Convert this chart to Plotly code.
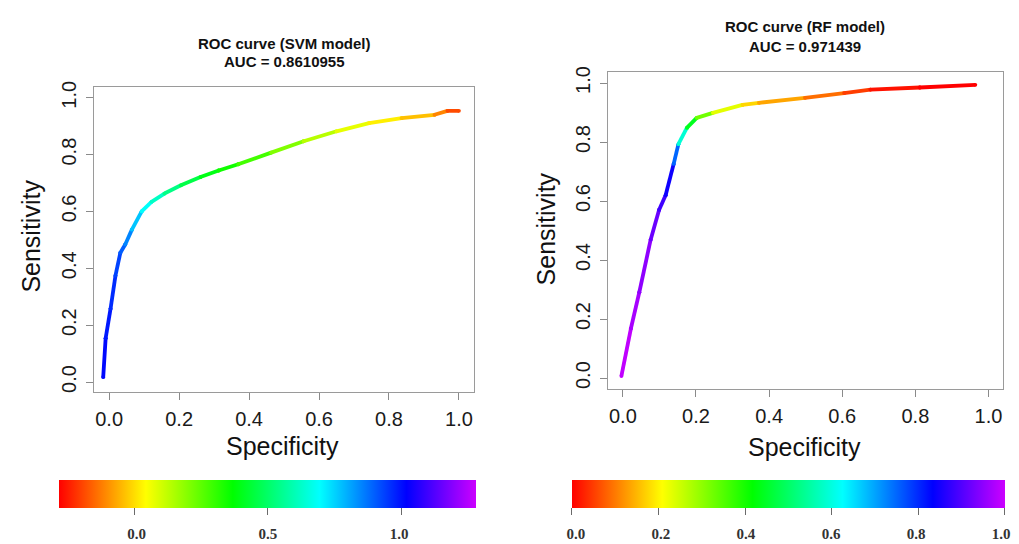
import plotly.graph_objects as go
from plotly.colors import sample_colorscale

W, H = 1019, 544

# ---------------- data ----------------
svm_spec = [-0.017, -0.010, 0.004, 0.018, 0.032, 0.046, 0.065, 0.093, 0.121, 0.158, 0.205,
            0.261, 0.313, 0.369, 0.463, 0.556, 0.650, 0.743, 0.836, 0.930, 0.967, 1.000]
svm_sens = [0.017, 0.154, 0.258, 0.374, 0.455, 0.484, 0.536, 0.600, 0.634, 0.663, 0.692,
            0.721, 0.744, 0.766, 0.807, 0.847, 0.882, 0.911, 0.928, 0.940, 0.954, 0.954]
svm_thr = [1.02, 1.00, 0.98, 0.95, 0.92, 0.88, 0.82, 0.72, 0.66, 0.58, 0.50,
           0.42, 0.37, 0.33, 0.24, 0.17, 0.10, 0.05, 0.00, -0.07, -0.15, -0.22]

rf_spec = [-0.004, 0.022, 0.045, 0.076, 0.099, 0.117, 0.139, 0.152, 0.175, 0.202, 0.246,
           0.327, 0.372, 0.498, 0.605, 0.677, 0.812, 0.964]
rf_sens = [0.007, 0.168, 0.291, 0.469, 0.570, 0.620, 0.726, 0.793, 0.848, 0.882, 0.899,
           0.926, 0.933, 0.950, 0.966, 0.978, 0.985, 0.994]
rf_thr = [1.00, 0.98, 0.96, 0.94, 0.90, 0.87, 0.82, 0.68, 0.50, 0.38, 0.27,
          0.19, 0.16, 0.11, 0.07, 0.03, 0.00, 0.00]

svm_title = ["ROC curve (SVM model)", "AUC = 0.8610955"]
rf_title = ["ROC curve (RF model)", "AUC = 0.971439"]

axis_ticks = [0.0, 0.2, 0.4, 0.6, 0.8, 1.0]
axis_ticktext = ["0.0", "0.2", "0.4", "0.6", "0.8", "1.0"]
svm_cb_range = [-0.28, 1.28]
svm_cb_ticks = [0.0, 0.5, 1.0]
svm_cb_text = ["0.0", "0.5", "1.0"]
rf_cb_range = [0.0, 1.0]
rf_cb_ticks = [0.0, 0.2, 0.4, 0.6, 0.8, 1.0]
rf_cb_text = ["0.0", "0.2", "0.4", "0.6", "0.8", "1.0"]

rainbow = [[0.0, "#FF0000"], [0.2083, "#FFFF00"], [0.4167, "#00FF00"],
           [0.625, "#00FFFF"], [0.8333, "#0000FF"], [1.0, "#CC00FF"]]

SANS = "Liberation Sans, Arial, sans-serif"
SERIF = "Liberation Serif, Times New Roman, serif"


def px_x(p):
    return p / W


def px_y(p):
    return 1 - p / H


fig = go.Figure()


def add_curve(xs, ys, cs, crange, xa, ya):
    lo, hi = crange
    for i in range(len(xs) - 1):
        v = (cs[i] + cs[i + 1]) / 2
        t = min(max((v - lo) / (hi - lo), 0), 1)
        col = sample_colorscale(rainbow, [t])[0]
        fig.add_trace(go.Scatter(x=[xs[i], xs[i + 1]], y=[ys[i], ys[i + 1]],
                                 mode="lines+markers",
                                 line=dict(color=col, width=3.8),
                                 marker=dict(color=col, size=3.8),
                                 xaxis=xa, yaxis=ya, showlegend=False,
                                 hoverinfo="skip"))


add_curve(svm_spec, svm_sens, svm_thr, svm_cb_range, "x", "y")
add_curve(rf_spec, rf_sens, rf_thr, rf_cb_range, "x2", "y2")


def add_colorbar(crange, ticks, left, right, top, bottom, xa, ya):
    fig.add_trace(go.Scatter(
        x=[None], y=[None], mode="markers", xaxis=xa, yaxis=ya, showlegend=False,
        marker=dict(color=[crange[0]], colorscale=rainbow, cmin=crange[0], cmax=crange[1],
                    showscale=True,
                    colorbar=dict(orientation="h", x=px_x((left + right) / 2), xanchor="center",
                                  y=px_y(top), yanchor="top", len=right - left, lenmode="pixels",
                                  thickness=bottom - top, thicknessmode="pixels",
                                  outlinewidth=0, xpad=0, ypad=0, ticks="outside",
                                  ticklen=7, tickwidth=1.2, tickcolor="#6a6a6a",
                                  tickmode="array", tickvals=ticks,
                                  showticklabels=False))))


add_colorbar(svm_cb_range, svm_cb_ticks, 55, 472, 480, 508, "x3", "y3")
add_colorbar(rf_cb_range, rf_cb_ticks, 577, 1010, 480, 508, "x4", "y4")

main_axis = dict(showline=True, mirror=True, linecolor="#9a9a9a", linewidth=1,
                 ticks="outside", ticklen=7, tickcolor="#8a8a8a", showgrid=False,
                 zeroline=False, tickvals=axis_ticks, ticktext=axis_ticktext,
                 tickfont=dict(family=SANS, size=20, color="#1a1a1a"),
                 ticklabelstandoff=2, fixedrange=True)

cb_axis = dict(showline=False, showgrid=False, zeroline=False, ticks="outside", ticklen=7,
               tickcolor="rgba(0,0,0,0)", ticklabeloverflow="allow",
               tickfont=dict(family=SERIF, size=15, color="#333333", weight="bold"),
               ticklabelstandoff=6, fixedrange=True)

fig.update_layout(
    width=W, height=H, margin=dict(l=0, r=0, t=0, b=0),
    paper_bgcolor="white", plot_bgcolor="white", showlegend=False,
    xaxis=dict(main_axis, domain=[px_x(87), px_x(473)], range=[-0.042, 1.042], anchor="y"),
    yaxis=dict(main_axis, domain=[px_y(391), px_y(82)], range=[-0.035, 1.038], anchor="x",
               tickangle=-90),
    xaxis2=dict(main_axis, domain=[px_x(610), px_x(1012)], range=[-0.040, 1.040], anchor="y2"),
    yaxis2=dict(main_axis, domain=[px_y(388), px_y(67)], range=[-0.037, 1.037], anchor="x2",
                tickangle=-90),
    xaxis3=dict(cb_axis, domain=[px_x(55), px_x(472)], range=svm_cb_range, anchor="y3",
                tickvals=svm_cb_ticks, ticktext=svm_cb_text),
    yaxis3=dict(domain=[px_y(508), px_y(480)], visible=False, anchor="x3", range=[0, 1],
                fixedrange=True),
    xaxis4=dict(cb_axis, domain=[px_x(577), px_x(1010)], range=rf_cb_range, anchor="y4",
                tickvals=rf_cb_ticks, ticktext=rf_cb_text),
    yaxis4=dict(domain=[px_y(508), px_y(480)], visible=False, anchor="x4", range=[0, 1],
                fixedrange=True),
)

ann = []


def text(s, x, y, size, bold=False, angle=0):
    ann.append(dict(text=s, x=px_x(x), y=px_y(y), xref="paper", yref="paper",
                    xanchor="center", yanchor="middle", showarrow=False, textangle=angle,
                    font=dict(family=SANS, size=size, color="#111111",
                              weight="bold" if bold else "normal")))


text(svm_title[0], 280, 38, 15, True)
text(svm_title[1], 280, 56, 15, True)
text(rf_title[0], 810, 21, 15, True)
text(rf_title[1], 810, 41, 15, True)
text("Specificity", 278, 446, 25)
text("Sensitivity", 22, 233, 25, angle=-90)
text("Specificity", 810, 447, 25)
text("Sensitivity", 547, 226, 25, angle=-90)

fig.update_layout(annotations=ann)

fig.write_html("out.html", config={"displayModeBar": False},
               post_script="document.body.style.margin='0';document.body.style.overflow='hidden';")
